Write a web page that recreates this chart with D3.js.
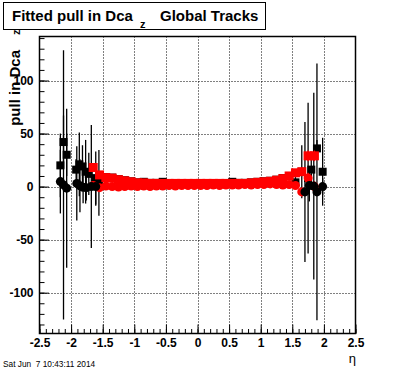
<!DOCTYPE html>
<html>
<head>
<meta charset="utf-8">
<script src="https://cdn.jsdelivr.net/npm/d3@7"></script>
<style>
body { margin: 0; background: #fff; }
svg { display: block; font-family: "Liberation Sans", Arial, Helvetica, sans-serif; }
</style>
</head>
<body>
<svg id="chart"></svg>
<script>
// black points, square markers (eta, pull, error)
var blackSqEta = [-2.17, -2.12, -2.07, -1.92, -1.87, -1.82, -1.77, -1.72, -1.61, -1.56,
    -1.45, -1.35, -1.25, -1.15, -1.05, -0.95, -0.85, -0.75, -0.65, -0.55,
    -0.45, -0.35, -0.25, -0.15, -0.05, 0.05, 0.15, 0.25, 0.35, 0.45,
    0.55, 0.65, 0.75, 0.85, 0.95, 1.05, 1.15, 1.25, 1.35, 1.45,
    1.55, 1.65, 1.75, 1.80, 1.89, 1.98];
var blackSqVal = [20, 42, 30, 16, 21, 19, 14, 12, 8, 3.5,
    9, 8.5, 7, 6, 5, 4, 4.5, 3.5, 3.5, 4.5,
    3, 3, 3, 3, 3, 3, 3, 3, 3, 3,
    4.5, 3.5, 3.5, 4, 4.5, 5, 5.5, 6.5, 8, 10,
    4, 14, 8, 16, 36, 14];
var blackSqErr = [30, 25, 20, 10, 30, 20, 30, 20, 25, 31,
    3, 3, 2, 2, 2, 1.5, 1.5, 1.5, 1.5, 1.5,
    1.5, 1.5, 1.5, 1.5, 1.5, 1.5, 1.5, 1.5, 1.5, 1.5,
    1.5, 1.5, 1.5, 1.5, 1.5, 2, 2, 2, 3, 3,
    5, 25, 71, 10, 8, 32];

// black points, circle markers
var blackCiEta = [-2.17, -2.12, -2.07, -1.91, -1.86, -1.81, -1.76, -1.68, -1.61,
    1.70, 1.77, 1.84, 1.89, 1.98];
var blackCiVal = [4.7, 1.6, -1.5, 3, 0.7, -0.6, -1, 0, 0,
    -5, 1, 0.5, -5, 0];
var blackCiErr = [30, 127, 75, 35, 25, 15, 12, 58, 18,
    66, 15, 88, 121, 8];

// red points (bins of 0.1 in eta)
var redEta = [-1.65, -1.55, -1.45, -1.35, -1.25, -1.15, -1.05, -0.95, -0.85, -0.75,
    -0.65, -0.55, -0.45, -0.35, -0.25, -0.15, -0.05, 0.05, 0.15, 0.25,
    0.35, 0.45, 0.55, 0.65, 0.75, 0.85, 0.95, 1.05, 1.15, 1.25,
    1.35, 1.45, 1.55, 1.65, 1.75, 1.85];
var redSqVal = [18, 11, 8.5, 8, 6.5, 5.5, 4.5, 3.5, 3.5, 3,
    3, 3, 3, 3, 3, 3, 3, 3, 3, 3,
    3, 3, 3, 3, 3, 3.5, 4, 4.5, 5, 6,
    7.5, 10, 13, 14, 29, 29];
var redSqErr = [4, 3, 2, 2, 1.5, 1.5, 1, 1, 1, 1,
    1, 1, 1, 1, 1, 1, 1, 1, 1, 1,
    1, 1, 1, 1, 1, 1, 1, 1, 1.5, 1.5,
    2, 2, 3, 4, 5, 5];
var redCiVal = [1, -1, 0.5, 0, -0.5, 0, 0.5, 0, 0.5, 0,
    0.5, 0.5, 1, 0.5, 1, 1, 1, 1, 1, 1.5,
    1, 1.5, 1.5, 1.5, 2, 1.5, 2, 2, 2.5, 2,
    1.5, 2, 1, -5, 8, 0];
var redCiErr = [3, 2, 1.5, 1.5, 1, 1, 1, 1, 1, 1,
    1, 1, 1, 1, 1, 1, 1, 1, 1, 1,
    1, 1, 1, 1, 1, 1, 1, 1, 1, 1,
    1.5, 1.5, 2, 4, 5, 5];

var xTicks = [-2.5, -2, -1.5, -1, -0.5, 0, 0.5, 1, 1.5, 2, 2.5];
var yTicks = [-100, -50, 0, 50, 100];

var width = 396, height = 372;
var frameL = 39.5, frameR = 355.5, frameT = 36.5, frameB = 333.5;

var svg = d3.select("#chart").attr("width", width).attr("height", height);
svg.append("rect").attr("width", width).attr("height", height).attr("fill", "#fff");

var x = d3.scaleLinear().domain([-2.5, 2.5]).range([frameL, frameR]);
var y = d3.scaleLinear().domain([-138.5, 141.5]).range([frameB, frameT]);

function fmt(d) { return String(d); }

// dotted grid
svg.append("g")
    .selectAll("line").data(xTicks.slice(1, -1)).enter().append("line")
    .attr("x1", function(d) { return Math.round(x(d)) + 0.5; })
    .attr("x2", function(d) { return Math.round(x(d)) + 0.5; })
    .attr("y1", frameT).attr("y2", frameB)
    .attr("stroke", "#000").attr("stroke-width", 1).attr("stroke-dasharray", "1,2");
svg.append("g")
    .selectAll("line").data(yTicks).enter().append("line")
    .attr("y1", function(d) { return Math.round(y(d)) + 0.5; })
    .attr("y2", function(d) { return Math.round(y(d)) + 0.5; })
    .attr("x1", frameL).attr("x2", frameR)
    .attr("stroke", "#000").attr("stroke-width", 1).attr("stroke-dasharray", "1,2");

// error bars and markers of one series
function drawBars(etas, vals, errs, color) {
    svg.append("g").selectAll("line").data(etas).enter().append("line")
        .attr("x1", function(d) { return x(d); })
        .attr("x2", function(d) { return x(d); })
        .attr("y1", function(d, i) { return y(Math.min(vals[i] + errs[i], 141.5)); })
        .attr("y2", function(d, i) { return y(Math.max(vals[i] - errs[i], -138.5)); })
        .attr("stroke", color).attr("stroke-width", 1.3);
}
function drawSquares(etas, vals, color, s) {
    svg.append("g").selectAll("rect").data(etas).enter().append("rect")
        .attr("x", function(d) { return x(d) - s / 2; })
        .attr("y", function(d, i) { return y(vals[i]) - s / 2; })
        .attr("width", s).attr("height", s)
        .attr("fill", color);
}
function drawCircles(etas, vals, color, r) {
    svg.append("g").selectAll("circle").data(etas).enter().append("circle")
        .attr("cx", function(d) { return x(d); })
        .attr("cy", function(d, i) { return y(vals[i]); })
        .attr("r", r)
        .attr("fill", color);
}

drawBars(blackSqEta, blackSqVal, blackSqErr, "#000");
drawSquares(blackSqEta, blackSqVal, "#000", 8);
drawBars(blackCiEta, blackCiVal, blackCiErr, "#000");
drawBars(redEta, redSqVal, redSqErr, "#f00");
drawSquares(redEta, redSqVal, "#f00", 9);
drawBars(redEta, redCiVal, redCiErr, "#f00");
drawCircles(redEta, redCiVal, "#f00", 4.5);
drawCircles(blackCiEta, blackCiVal, "#000", 4.5);

// axes, ticks inside the frame
function styleAxis(g) {
    g.select(".domain").remove();
    g.selectAll("line").attr("stroke", "#000");
    g.selectAll("text").attr("fill", "#000").attr("font-size", 12).attr("font-weight", "bold");
}
svg.append("g").attr("transform", "translate(0," + frameB + ")")
    .call(d3.axisBottom(x).ticks(50).tickSize(-4.5).tickFormat(""))
    .call(styleAxis);
svg.append("g").attr("transform", "translate(0," + frameB + ")")
    .call(d3.axisBottom(x).tickValues(xTicks).tickSize(-9).tickPadding(5).tickFormat(fmt))
    .call(styleAxis);
svg.append("g").attr("transform", "translate(" + frameL + ",0)")
    .call(d3.axisLeft(y).ticks(28).tickSize(-5).tickFormat(""))
    .call(styleAxis);
svg.append("g").attr("transform", "translate(" + frameL + ",0)")
    .call(d3.axisLeft(y).tickValues(yTicks).tickSize(-9.5).tickPadding(6).tickFormat(fmt))
    .call(styleAxis);

// frame
svg.append("rect").attr("x", frameL).attr("y", frameT)
    .attr("width", frameR - frameL).attr("height", frameB - frameT)
    .attr("fill", "none").attr("stroke", "#000").attr("stroke-width", 1.5);

// title box
svg.append("rect").attr("x", 3.5).attr("y", 2.5).attr("width", 262).attr("height", 27)
    .attr("fill", "#fff").attr("stroke", "#000").attr("stroke-width", 1);
var title = svg.append("text").attr("y", 21).attr("font-size", 15).attr("font-weight", "bold");
title.append("tspan").attr("x", 12).text("Fitted pull in Dca");
title.append("tspan").attr("x", 140).attr("y", 28).attr("font-size", 11).text("z");
title.append("tspan").attr("x", 160).attr("y", 21).text("Global Tracks");

// y title
svg.append("text").attr("transform", "translate(20,50) rotate(-90)")
    .attr("text-anchor", "end").attr("font-size", 15).attr("font-weight", "bold")
    .text("pull in Dca");
svg.append("text").attr("transform", "translate(20,35) rotate(-90)")
    .attr("font-size", 11).attr("font-weight", "bold")
    .text("z");

// x title
svg.append("text").attr("x", 356).attr("y", 363).attr("text-anchor", "end")
    .attr("font-size", 13).text("η");

// date stamp
svg.append("text").attr("x", 3).attr("y", 367).attr("font-size", 8.3)
    .style("white-space", "pre").text("Sat Jun  7 10:43:11 2014");
</script>
</body>
</html>
